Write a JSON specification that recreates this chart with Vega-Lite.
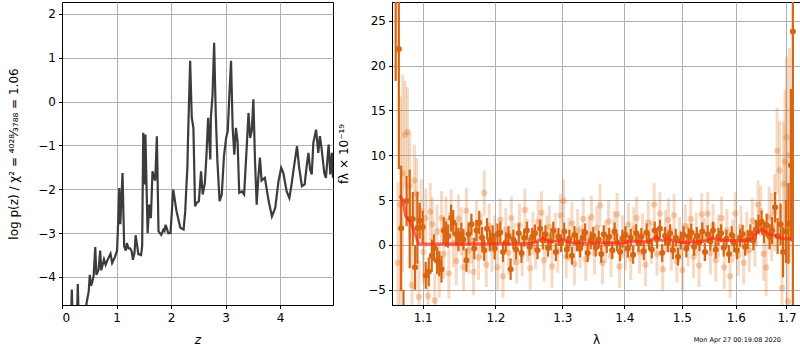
{
 "$schema": "https://vega.github.io/schema/vega-lite/v6.json",
 "padding": {"left": 7, "top": 1, "right": 1, "bottom": 0},
 "config": {
  "font": "DejaVu Sans",
  "view": {"stroke": "black", "strokeWidth": 1},
  "axis": {"domainColor": "black", "tickColor": "black", "labelColor": "black", "titleColor": "black", "labelFontSize": 12, "titleFontSize": 12, "titleFontWeight": "normal", "gridColor": "#b0b0b0", "gridWidth": 1, "tickSize": 3.5, "labelPadding": 3, "labelFont": "DejaVu Sans", "titleFont": "DejaVu Sans"},
  "axisY": {"titlePadding": 17},
  "axisX": {"titlePadding": 11, "labelPadding": 4},
  "concat": {"spacing": 3}
 },
 "datasets": {
  "pz": [
   {"z":0.16,"logp":-5.2},{"z":0.18,"logp":-4.29},{"z":0.2,"logp":-5.2},{"z":0.27,"logp":-5.2},{"z":0.29,"logp":-4.16},{"z":0.31,"logp":-5.2},
   {"z":0.42,"logp":-5.2},{"z":0.45,"logp":-4.6},{"z":0.49,"logp":-4.33},{"z":0.51,"logp":-3.95},{"z":0.53,"logp":-4.2},{"z":0.55,"logp":-4.14},
   {"z":0.58,"logp":-3.98},{"z":0.61,"logp":-3.32},{"z":0.63,"logp":-3.95},{"z":0.67,"logp":-3.84},{"z":0.7,"logp":-3.4},{"z":0.72,"logp":-3.85},
   {"z":0.77,"logp":-3.6},{"z":0.8,"logp":-3.72},{"z":0.84,"logp":-3.6},{"z":0.89,"logp":-3.47},{"z":0.92,"logp":-3.68},{"z":0.97,"logp":-3.55},
   {"z":1.01,"logp":-3.4},{"z":1.03,"logp":-2.75},{"z":1.05,"logp":-1.97},{"z":1.07,"logp":-2.8},{"z":1.09,"logp":-2.2},{"z":1.11,"logp":-1.63},
   {"z":1.14,"logp":-3.3},{"z":1.17,"logp":-3.4},{"z":1.19,"logp":-3.23},{"z":1.22,"logp":-3.35},{"z":1.25,"logp":-3.35},{"z":1.28,"logp":-3.42},
   {"z":1.3,"logp":-3.61},{"z":1.33,"logp":-3.45},{"z":1.35,"logp":-3.05},{"z":1.38,"logp":-3.3},{"z":1.4,"logp":-3.48},{"z":1.45,"logp":-3.5},
   {"z":1.47,"logp":-3.3},{"z":1.49,"logp":-0.71},{"z":1.51,"logp":-1.89},{"z":1.53,"logp":-0.75},{"z":1.55,"logp":-1.9},{"z":1.57,"logp":-3.0},
   {"z":1.6,"logp":-2.35},{"z":1.63,"logp":-2.66},{"z":1.66,"logp":-1.59},{"z":1.69,"logp":-1.74},{"z":1.71,"logp":-1.8},{"z":1.74,"logp":-0.79},
   {"z":1.77,"logp":-2.96},{"z":1.82,"logp":-3.04},{"z":1.86,"logp":-2.92},{"z":1.88,"logp":-2.95},{"z":1.9,"logp":-2.81},{"z":1.95,"logp":-3.0},
   {"z":1.99,"logp":-3.0},{"z":2.04,"logp":-2.01},{"z":2.1,"logp":-2.5},{"z":2.17,"logp":-2.88},{"z":2.23,"logp":-2.92},{"z":2.26,"logp":-2.5},
   {"z":2.28,"logp":-1.97},{"z":2.3,"logp":-1.5},{"z":2.31,"logp":-0.9},{"z":2.35,"logp":0.93},{"z":2.38,"logp":-0.37},{"z":2.41,"logp":-0.6},
   {"z":2.44,"logp":-2.39},{"z":2.47,"logp":-2.31},{"z":2.51,"logp":-2.27},{"z":2.55,"logp":-1.59},{"z":2.58,"logp":-2.12},{"z":2.62,"logp":-1.86},
   {"z":2.65,"logp":-1.21},{"z":2.68,"logp":-0.37},{"z":2.72,"logp":-1.32},{"z":2.73,"logp":-0.37},{"z":2.76,"logp":0.13},{"z":2.79,"logp":1.34},
   {"z":2.82,"logp":-0.29},{"z":2.85,"logp":-1.36},{"z":2.89,"logp":-2.27},{"z":2.93,"logp":-2.12},{"z":2.97,"logp":-1.25},{"z":3.01,"logp":-0.83},
   {"z":3.04,"logp":-0.67},{"z":3.07,"logp":0.16},{"z":3.1,"logp":0.93},{"z":3.13,"logp":-0.6},{"z":3.16,"logp":-1.21},{"z":3.19,"logp":-0.6},
   {"z":3.22,"logp":-0.9},{"z":3.25,"logp":-2.08},{"z":3.3,"logp":-2.05},{"z":3.34,"logp":-2.12},{"z":3.39,"logp":-0.98},{"z":3.42,"logp":-0.26},
   {"z":3.45,"logp":-0.83},{"z":3.48,"logp":-0.67},{"z":3.51,"logp":0.05},{"z":3.54,"logp":-1.36},{"z":3.57,"logp":-2.35},{"z":3.6,"logp":-1.74},
   {"z":3.63,"logp":-1.28},{"z":3.66,"logp":-1.8},{"z":3.68,"logp":-1.78},{"z":3.72,"logp":-1.74},{"z":3.79,"logp":-2.27},{"z":3.85,"logp":-2.62},
   {"z":3.91,"logp":-2.43},{"z":3.97,"logp":-1.82},{"z":4.02,"logp":-1.51},{"z":4.06,"logp":-1.63},{"z":4.12,"logp":-2.05},{"z":4.17,"logp":-2.2},
   {"z":4.21,"logp":-1.89},{"z":4.26,"logp":-1.44},{"z":4.31,"logp":-1.02},{"z":4.35,"logp":-1.51},{"z":4.4,"logp":-1.93},{"z":4.45,"logp":-1.89},
   {"z":4.49,"logp":-1.44},{"z":4.52,"logp":-1.17},{"z":4.55,"logp":-1.55},{"z":4.58,"logp":-1.66},{"z":4.61,"logp":-0.94},{"z":4.66,"logp":-0.64},
   {"z":4.7,"logp":-1.17},{"z":4.73,"logp":-0.79},{"z":4.76,"logp":-1.06},{"z":4.81,"logp":-1.63},{"z":4.84,"logp":-1.74},{"z":4.89,"logp":-0.98},
   {"z":4.92,"logp":-1.66},{"z":4.95,"logp":-1.17},{"z":4.97,"logp":-1.74}
  ],
  "dark": [
   {"lam":1.065,"f":30,"e":11.7},{"lam":1.069,"f":21.85,"e":13.4},{"lam":1.072,"f":1.85,"e":7},{"lam":1.075,"f":-10,"e":5},{"lam":1.079,"f":4.9,"e":2.8},
   {"lam":1.083,"f":2.9,"e":5.5},{"lam":1.087,"f":2.9,"e":3},{"lam":1.09,"f":-2.5,"e":2.5},{"lam":1.093,"f":1.9,"e":4},{"lam":1.096,"f":2.7,"e":2},
   {"lam":1.1,"f":2.0,"e":1.8},{"lam":1.104,"f":-3.4,"e":1.5},{"lam":1.108,"f":-3.0,"e":1.6},{"lam":1.112,"f":-1.2,"e":1.8},{"lam":1.115,"f":-0.3,"e":1.5},
   {"lam":1.119,"f":-1.75,"e":1.5},{"lam":1.122,"f":-2.1,"e":1.4},{"lam":1.125,"f":-2.7,"e":1.5},{"lam":1.128,"f":1.6,"e":1.5},{"lam":1.131,"f":1.2,"e":1.4},
   {"lam":1.134,"f":1.0,"e":1.3},{"lam":1.138,"f":3.0,"e":1.5},{"lam":1.141,"f":2.5,"e":1.4},{"lam":1.145,"f":1.2,"e":1.3},{"lam":1.148,"f":0.6,"e":1.3},
   {"lam":1.152,"f":1.2,"e":1.3},{"lam":1.155,"f":0.6,"e":1.2},{"lam":1.159,"f":-1.7,"e":1.3},{"lam":1.162,"f":1.2,"e":1.3},{"lam":1.166,"f":2.3,"e":1.2},
   {"lam":1.17,"f":-0.4,"e":1.2},{"lam":1.173,"f":1.6,"e":1.2},{"lam":1.177,"f":2.5,"e":1.3},{"lam":1.181,"f":0.8,"e":1.2},{"lam":1.184,"f":-0.6,"e":1.2},
   {"lam":1.188,"f":1.8,"e":1.2},{"lam":1.192,"f":0.5,"e":1.2},{"lam":1.196,"f":1.0,"e":1.2},{"lam":1.199,"f":-0.4,"e":1.2},{"lam":1.203,"f":1.2,"e":1.2},
   {"lam":1.207,"f":1.4,"e":1.2},{"lam":1.211,"f":-0.8,"e":1.1},{"lam":1.215,"f":0.3,"e":1.1},{"lam":1.219,"f":1.0,"e":1.1},{"lam":1.222,"f":-2.7,"e":1.2},
   {"lam":1.226,"f":0.6,"e":1.1},{"lam":1.23,"f":-0.5,"e":1.1},{"lam":1.234,"f":1.3,"e":1.1},{"lam":1.238,"f":-0.9,"e":1.1},{"lam":1.242,"f":0.8,"e":1.0},
   {"lam":1.246,"f":1.6,"e":1.0},{"lam":1.25,"f":-0.2,"e":1.0},{"lam":1.254,"f":0.9,"e":1.0},{"lam":1.258,"f":1.3,"e":1.0},{"lam":1.262,"f":-0.6,"e":1.0},
   {"lam":1.266,"f":1.8,"e":1.0},{"lam":1.27,"f":0.5,"e":1.0},{"lam":1.274,"f":1.2,"e":1.0},{"lam":1.278,"f":-0.3,"e":1.0},{"lam":1.282,"f":0.4,"e":1.0},
   {"lam":1.286,"f":1.6,"e":1.0},{"lam":1.29,"f":-0.8,"e":1.0},{"lam":1.294,"f":0.9,"e":1.0},{"lam":1.298,"f":0.2,"e":1.0},{"lam":1.303,"f":1.5,"e":1.0},
   {"lam":1.307,"f":-0.5,"e":1.0},{"lam":1.311,"f":0.7,"e":1.0},{"lam":1.315,"f":-1.2,"e":1.0},{"lam":1.319,"f":1.1,"e":1.0},{"lam":1.323,"f":0.3,"e":1.0},
   {"lam":1.328,"f":-0.4,"e":1.0},{"lam":1.332,"f":0.8,"e":1.0},{"lam":1.336,"f":1.4,"e":1.0},{"lam":1.34,"f":-0.9,"e":1.0},{"lam":1.345,"f":0.5,"e":1.0},
   {"lam":1.349,"f":1.0,"e":1.0},{"lam":1.353,"f":-0.3,"e":1.0},{"lam":1.358,"f":0.6,"e":1.0},{"lam":1.362,"f":-1.0,"e":1.0},{"lam":1.366,"f":1.2,"e":1.0},
   {"lam":1.371,"f":0.1,"e":1.0},{"lam":1.375,"f":0.9,"e":1.0},{"lam":1.38,"f":-0.6,"e":1.0},{"lam":1.384,"f":1.5,"e":1.0},{"lam":1.388,"f":0.3,"e":1.0},
   {"lam":1.393,"f":-0.8,"e":1.0},{"lam":1.397,"f":0.7,"e":1.0},{"lam":1.402,"f":1.1,"e":1.0},{"lam":1.406,"f":-0.4,"e":1.0},{"lam":1.411,"f":0.8,"e":1.0},
   {"lam":1.415,"f":-1.1,"e":1.0},{"lam":1.42,"f":1.3,"e":1.0},{"lam":1.424,"f":0.2,"e":1.0},{"lam":1.429,"f":0.9,"e":1.0},{"lam":1.433,"f":-0.7,"e":1.0},
   {"lam":1.438,"f":1.4,"e":1.0},{"lam":1.442,"f":0.4,"e":1.0},{"lam":1.447,"f":-0.5,"e":1.0},{"lam":1.452,"f":1.6,"e":1.0},{"lam":1.456,"f":0.6,"e":1.0},
   {"lam":1.461,"f":1.8,"e":1.0},{"lam":1.465,"f":-0.9,"e":1.0},{"lam":1.47,"f":1.0,"e":1.0},{"lam":1.475,"f":0.2,"e":1.0},{"lam":1.479,"f":1.3,"e":1.0},
   {"lam":1.484,"f":-0.6,"e":1.0},{"lam":1.489,"f":0.8,"e":1.0},{"lam":1.493,"f":-1.3,"e":1.0},{"lam":1.498,"f":0.5,"e":1.0},{"lam":1.503,"f":1.1,"e":1.0},
   {"lam":1.508,"f":-0.4,"e":1.0},{"lam":1.512,"f":0.9,"e":1.0},{"lam":1.517,"f":1.4,"e":1.0},{"lam":1.522,"f":-0.2,"e":1.0},{"lam":1.527,"f":1.0,"e":1.0},
   {"lam":1.532,"f":0.3,"e":1.0},{"lam":1.537,"f":1.5,"e":1.0},{"lam":1.542,"f":-0.8,"e":1.0},{"lam":1.547,"f":1.2,"e":1.0},{"lam":1.552,"f":0.4,"e":1.0},
   {"lam":1.557,"f":1.6,"e":1.0},{"lam":1.562,"f":-0.5,"e":1.0},{"lam":1.567,"f":0.9,"e":1.0},{"lam":1.572,"f":1.3,"e":1.0},{"lam":1.577,"f":-0.3,"e":1.0},
   {"lam":1.582,"f":0.7,"e":1.0},{"lam":1.587,"f":-1.0,"e":1.0},{"lam":1.592,"f":1.1,"e":1.0},{"lam":1.597,"f":0.2,"e":1.0},{"lam":1.602,"f":-0.6,"e":1.0},
   {"lam":1.608,"f":0.8,"e":1.0},{"lam":1.613,"f":1.2,"e":1.0},{"lam":1.618,"f":-0.2,"e":1.0},{"lam":1.623,"f":0.6,"e":1.0},{"lam":1.628,"f":1.3,"e":1.0},
   {"lam":1.634,"f":0.5,"e":1.1},{"lam":1.639,"f":1.7,"e":1.1},{"lam":1.644,"f":2.3,"e":1.1},{"lam":1.65,"f":2.6,"e":1.2},{"lam":1.655,"f":1.4,"e":1.2},
   {"lam":1.66,"f":2.2,"e":1.3},{"lam":1.666,"f":0.9,"e":1.4},{"lam":1.671,"f":1.6,"e":1.5},{"lam":1.677,"f":4.2,"e":1.7},{"lam":1.682,"f":1.0,"e":2.0},
   {"lam":1.688,"f":2.3,"e":2.3},{"lam":1.693,"f":-0.8,"e":2.8},{"lam":1.699,"f":1.5,"e":3.5},{"lam":1.704,"f":2.4,"e":4.5},{"lam":1.709,"f":8.9,"e":8.5},
   {"lam":1.713,"f":23.8,"e":35}
  ],
  "light": [
   {"lam":1.068,"f":-2.0,"e":9},{"lam":1.071,"f":4.5,"e":12},{"lam":1.074,"f":8.0,"e":11},{"lam":1.077,"f":12.3,"e":6},{"lam":1.08,"f":12.6,"e":5},
   {"lam":1.083,"f":6.6,"e":6},{"lam":1.086,"f":-4.5,"e":5},{"lam":1.089,"f":7.2,"e":4},{"lam":1.092,"f":5.7,"e":4},{"lam":1.095,"f":-5.8,"e":4},
   {"lam":1.098,"f":3.8,"e":3.5},{"lam":1.101,"f":-0.8,"e":3.5},{"lam":1.104,"f":3.0,"e":3.3},{"lam":1.107,"f":-5.7,"e":3.3},{"lam":1.11,"f":3.7,"e":3.2},
   {"lam":1.113,"f":2.3,"e":3},{"lam":1.116,"f":-6.2,"e":3},{"lam":1.119,"f":1.5,"e":3},{"lam":1.122,"f":-2.9,"e":3},{"lam":1.125,"f":3.0,"e":3},
   {"lam":1.128,"f":-1.0,"e":2.8},{"lam":1.131,"f":2.6,"e":2.8},{"lam":1.135,"f":-3.2,"e":2.8},{"lam":1.138,"f":3.4,"e":2.8},{"lam":1.141,"f":0.2,"e":2.7},
   {"lam":1.145,"f":-1.8,"e":2.7},{"lam":1.148,"f":2.9,"e":2.7},{"lam":1.152,"f":1.5,"e":2.7},{"lam":1.155,"f":-2.5,"e":2.6},{"lam":1.159,"f":3.8,"e":2.6},
   {"lam":1.162,"f":-0.6,"e":2.6},{"lam":1.166,"f":0.5,"e":2.6},{"lam":1.169,"f":-3.0,"e":2.6},{"lam":1.173,"f":2.4,"e":2.5},{"lam":1.176,"f":-1.4,"e":2.5},
   {"lam":1.18,"f":1.0,"e":2.5},{"lam":1.184,"f":5.8,"e":2.5},{"lam":1.187,"f":-2.2,"e":2.5},{"lam":1.191,"f":2.1,"e":2.5},{"lam":1.195,"f":-0.5,"e":2.5},
   {"lam":1.199,"f":0.8,"e":2.5},{"lam":1.203,"f":-2.5,"e":2.5},{"lam":1.207,"f":2.8,"e":2.4},{"lam":1.211,"f":-3.5,"e":2.4},{"lam":1.215,"f":1.7,"e":2.4},
   {"lam":1.219,"f":-0.9,"e":2.4},{"lam":1.223,"f":3.0,"e":2.4},{"lam":1.227,"f":0.1,"e":2.4},{"lam":1.231,"f":-1.9,"e":2.4},{"lam":1.235,"f":2.2,"e":2.4},
   {"lam":1.239,"f":-1.1,"e":2.4},{"lam":1.243,"f":3.9,"e":2.4},{"lam":1.247,"f":0.5,"e":2.4},{"lam":1.251,"f":-2.6,"e":2.4},{"lam":1.255,"f":1.3,"e":2.4},
   {"lam":1.259,"f":-0.3,"e":2.4},{"lam":1.263,"f":2.6,"e":2.4},{"lam":1.268,"f":3.6,"e":2.4},{"lam":1.272,"f":-1.7,"e":2.4},{"lam":1.276,"f":0.9,"e":2.4},
   {"lam":1.28,"f":2.0,"e":2.4},{"lam":1.284,"f":-2.4,"e":2.4},{"lam":1.289,"f":1.2,"e":2.4},{"lam":1.293,"f":-0.7,"e":2.4},{"lam":1.297,"f":3.3,"e":2.4},
   {"lam":1.302,"f":4.9,"e":2.4},{"lam":1.306,"f":-1.3,"e":2.4},{"lam":1.31,"f":0.6,"e":2.4},{"lam":1.315,"f":2.4,"e":2.4},{"lam":1.319,"f":-2.1,"e":2.4},
   {"lam":1.324,"f":1.6,"e":2.4},{"lam":1.328,"f":-0.2,"e":2.4},{"lam":1.333,"f":2.9,"e":2.4},{"lam":1.337,"f":-1.6,"e":2.4},{"lam":1.342,"f":0.8,"e":2.4},
   {"lam":1.346,"f":3.1,"e":2.4},{"lam":1.351,"f":-0.9,"e":2.4},{"lam":1.355,"f":1.9,"e":2.4},{"lam":1.36,"f":4.4,"e":2.4},{"lam":1.364,"f":-2.0,"e":2.4},
   {"lam":1.369,"f":0.4,"e":2.4},{"lam":1.374,"f":2.6,"e":2.4},{"lam":1.378,"f":-1.2,"e":2.4},{"lam":1.383,"f":1.4,"e":2.4},{"lam":1.388,"f":3.4,"e":2.4},
   {"lam":1.392,"f":-2.4,"e":2.4},{"lam":1.397,"f":0.9,"e":2.4},{"lam":1.402,"f":-0.4,"e":2.4},{"lam":1.407,"f":2.3,"e":2.4},{"lam":1.411,"f":-1.5,"e":2.4},
   {"lam":1.416,"f":1.8,"e":2.4},{"lam":1.421,"f":3.0,"e":2.4},{"lam":1.426,"f":-0.8,"e":2.4},{"lam":1.431,"f":1.1,"e":2.4},{"lam":1.436,"f":-2.2,"e":2.4},
   {"lam":1.441,"f":2.5,"e":2.4},{"lam":1.446,"f":0.3,"e":2.4},{"lam":1.451,"f":4.5,"e":2.4},{"lam":1.456,"f":-1.0,"e":2.4},{"lam":1.461,"f":3.5,"e":2.4},
   {"lam":1.466,"f":-2.7,"e":2.4},{"lam":1.471,"f":1.5,"e":2.4},{"lam":1.476,"f":2.8,"e":2.4},{"lam":1.481,"f":-0.5,"e":2.4},{"lam":1.486,"f":3.3,"e":2.4},
   {"lam":1.491,"f":-1.8,"e":2.4},{"lam":1.496,"f":0.7,"e":2.4},{"lam":1.501,"f":-2.8,"e":2.4},{"lam":1.506,"f":2.1,"e":2.4},{"lam":1.511,"f":0.0,"e":2.4},
   {"lam":1.516,"f":2.9,"e":2.4},{"lam":1.521,"f":-1.3,"e":2.4},{"lam":1.526,"f":1.2,"e":2.4},{"lam":1.531,"f":-2.3,"e":2.4},{"lam":1.536,"f":3.4,"e":2.4},
   {"lam":1.541,"f":0.6,"e":2.4},{"lam":1.547,"f":3.5,"e":2.4},{"lam":1.552,"f":-0.9,"e":2.4},{"lam":1.557,"f":2.2,"e":2.4},{"lam":1.562,"f":-1.7,"e":2.4},
   {"lam":1.567,"f":1.0,"e":2.4},{"lam":1.573,"f":3.0,"e":2.4},{"lam":1.578,"f":-2.5,"e":2.4},{"lam":1.583,"f":1.6,"e":2.4},{"lam":1.589,"f":-3.5,"e":2.4},
   {"lam":1.594,"f":0.4,"e":2.4},{"lam":1.599,"f":3.5,"e":2.4},{"lam":1.605,"f":-1.1,"e":2.4},{"lam":1.61,"f":2.0,"e":2.4},{"lam":1.615,"f":-2.0,"e":2.4},
   {"lam":1.621,"f":1.3,"e":2.4},{"lam":1.626,"f":-0.6,"e":2.4},{"lam":1.632,"f":2.7,"e":2.5},{"lam":1.637,"f":0.2,"e":2.6},{"lam":1.643,"f":4.5,"e":2.7},
   {"lam":1.648,"f":3.8,"e":2.8},{"lam":1.654,"f":-1.0,"e":3.0},{"lam":1.659,"f":-2.5,"e":3.2},{"lam":1.665,"f":3.1,"e":3.4},{"lam":1.67,"f":2.0,"e":3.8},
   {"lam":1.676,"f":3.6,"e":4.3},{"lam":1.681,"f":10.5,"e":4.8},{"lam":1.686,"f":8.3,"e":5.5},{"lam":1.691,"f":-4.8,"e":6.5},{"lam":1.694,"f":6.8,"e":7},
   {"lam":1.697,"f":9.3,"e":8},{"lam":1.7,"f":12.0,"e":9},{"lam":1.703,"f":-6.3,"e":9},{"lam":1.706,"f":10.0,"e":12}
  ],
  "model": [
   {"lam":1.07,"f":5.5},{"lam":1.074,"f":5.0},{"lam":1.078,"f":3.2},{"lam":1.085,"f":2.4},{"lam":1.09,"f":1.2},{"lam":1.095,"f":0.1},
   {"lam":1.25,"f":0.15},{"lam":1.26,"f":0.35},{"lam":1.27,"f":0.75},{"lam":1.275,"f":0.6},{"lam":1.28,"f":0.35},{"lam":1.29,"f":0.45},
   {"lam":1.3,"f":0.6},{"lam":1.31,"f":0.3},{"lam":1.32,"f":0.2},{"lam":1.4,"f":0.25},{"lam":1.41,"f":0.4},{"lam":1.43,"f":0.4},
   {"lam":1.44,"f":0.3},{"lam":1.455,"f":0.9},{"lam":1.465,"f":0.45},{"lam":1.475,"f":0.7},{"lam":1.485,"f":0.45},{"lam":1.5,"f":0.25},
   {"lam":1.53,"f":0.35},{"lam":1.545,"f":0.5},{"lam":1.555,"f":0.8},{"lam":1.565,"f":0.6},{"lam":1.58,"f":0.5},{"lam":1.62,"f":0.5},
   {"lam":1.63,"f":0.7},{"lam":1.64,"f":1.3},{"lam":1.65,"f":1.8},{"lam":1.658,"f":1.5},{"lam":1.665,"f":1.2},{"lam":1.675,"f":1.1},
   {"lam":1.685,"f":0.8},{"lam":1.695,"f":0.7},{"lam":1.71,"f":0.7}
  ]
 },
 "hconcat": [
  {
   "width": 271,
   "height": 303,
   "layer": [
    {
     "data": {"name": "pz"},
     "mark": {"type": "line", "color": "#3c3c3c", "strokeWidth": 2.2, "clip": true},
     "encoding": {
      "x": {"field": "z", "type": "quantitative", "scale": {"domain": [0, 4.97], "nice": false, "zero": false}, "axis": {"values": [0, 1, 2, 3, 4], "title": "z", "titleFontStyle": "italic"}},
      "y": {"field": "logp", "type": "quantitative", "scale": {"domain": [-4.64, 2.27], "nice": false, "zero": false}, "axis": {"values": [-4, -3, -2, -1, 0, 1, 2], "title": "log p(z) / χ² = ⁴⁰²⁸⁄₃₇₈₈ = 1.06"}}
     }
    },
    {
     "mark": {"type": "text", "align": "right", "baseline": "middle", "fontSize": 12, "text": "j163852p4039", "color": "black"},
     "encoding": {"x": {"datum": 4.7}, "y": {"datum": 1.84}}
    },
    {
     "mark": {"type": "text", "align": "right", "baseline": "middle", "fontSize": 12, "text": "ID=1585\u00a0\u00a0\u00a0z=2.8004", "color": "black"},
     "encoding": {"x": {"datum": 4.7}, "y": {"datum": 1.52}}
    }
   ]
  },
  {
   "width": 408,
   "height": 303,
   "title": {"text": "Mon Apr 27 00:19:08 2020", "orient": "bottom", "anchor": "end", "fontSize": 6.5, "fontWeight": "normal", "offset": -9, "dx": -19, "font": "DejaVu Sans", "color": "black"},
   "layer": [
    {
     "data": {"name": "light"},
     "mark": {"type": "errorbar", "ticks": false, "thickness": 3, "color": "#dd6b12", "opacity": 0.25, "clip": true},
     "encoding": {
      "x": {"field": "lam", "type": "quantitative", "scale": {"type": "log", "domain": [1.0603, 1.7277], "nice": false}, "axis": {"values": [1.1, 1.2, 1.3, 1.4, 1.5, 1.6, 1.7], "format": ".1f", "title": "λ"}},
      "y": {"field": "f", "type": "quantitative", "scale": {"domain": [-6.7, 27.1], "nice": false, "zero": false}, "axis": {"values": [-5, 0, 5, 10, 15, 20, 25], "title": "fλ × 10⁻¹⁹"}},
      "yError": {"field": "e"}
     }
    },
    {
     "data": {"name": "light"},
     "mark": {"type": "circle", "size": 40, "color": "#dd6b12", "opacity": 0.3, "clip": true},
     "encoding": {
      "x": {"field": "lam", "type": "quantitative", "title": "λ"},
      "y": {"field": "f", "type": "quantitative", "title": "fλ × 10⁻¹⁹"}
     }
    },
    {
     "data": {"name": "dark"},
     "mark": {"type": "errorbar", "ticks": false, "thickness": 2.2, "color": "#d96510", "opacity": 1, "clip": true},
     "encoding": {
      "x": {"field": "lam", "type": "quantitative", "title": "λ"},
      "y": {"field": "f", "type": "quantitative", "title": "fλ × 10⁻¹⁹"},
      "yError": {"field": "e"}
     }
    },
    {
     "data": {"name": "dark"},
     "mark": {"type": "circle", "size": 36, "color": "#d96510", "opacity": 1, "clip": true},
     "encoding": {
      "x": {"field": "lam", "type": "quantitative", "title": "λ"},
      "y": {"field": "f", "type": "quantitative", "title": "fλ × 10⁻¹⁹"}
     }
    },
    {
     "data": {"name": "model"},
     "mark": {"type": "line", "color": "#ff2a1a", "opacity": 0.7, "strokeWidth": 3, "clip": true},
     "encoding": {
      "x": {"field": "lam", "type": "quantitative", "title": "λ"},
      "y": {"field": "f", "type": "quantitative", "title": "fλ × 10⁻¹⁹"}
     }
    },
    {
     "mark": {"type": "rule", "color": "black", "strokeDash": [2, 3], "strokeWidth": 1.5},
     "encoding": {"y": {"datum": 0}}
    }
   ]
  }
 ]
}
